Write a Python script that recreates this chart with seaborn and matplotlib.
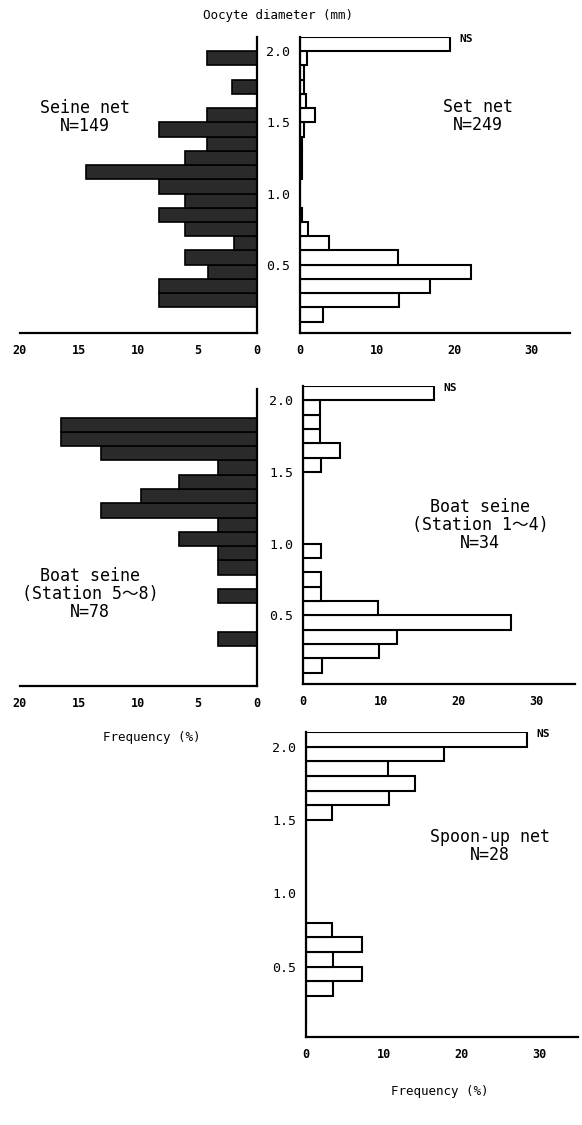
"""
Oocyte diameter frequency by gear type
"""

import matplotlib
matplotlib.use('Agg')
import matplotlib.pyplot as plt
import seaborn as sns
import numpy as np

# bin lower edges (mm); last bin (2.0) is the "NS" class
bins = [0.1, 0.2, 0.3, 0.4, 0.5, 0.6, 0.7, 0.8, 0.9, 1.0,
        1.1, 1.2, 1.3, 1.4, 1.5, 1.6, 1.7, 1.8, 1.9, 2.0]

seine_net = [0, 8.3, 8.3, 4.1, 6.1, 1.9, 6.1, 8.3, 6.1, 8.3,
             14.4, 6.1, 4.2, 8.3, 4.2, 0, 2.1, 0, 4.2, 0]
set_net = [3.0, 12.8, 16.9, 22.2, 12.7, 3.7, 1.1, 0.3, 0, 0,
           0.2, 0.2, 0.3, 0.5, 2.0, 0.8, 0.5, 0.5, 0.9, 19.5]
boat_5_8 = [0, 0, 3.3, 0, 0, 3.3, 0, 3.3, 3.3, 6.6,
            3.3, 13.2, 9.8, 6.6, 3.3, 13.2, 16.5, 16.5, 0, 0]
boat_1_4 = [2.5, 9.8, 12.1, 26.8, 9.7, 2.3, 2.3, 0, 2.3, 0,
            0, 0, 0, 0, 2.3, 4.7, 2.2, 2.2, 2.2, 16.9]
spoon_up = [0, 0, 3.5, 7.2, 3.5, 7.2, 3.4, 0, 0, 0,
            0, 0, 0, 0, 3.4, 10.7, 14.0, 10.5, 17.7, 28.5]

y_ticks = [0.5, 1.0, 1.5, 2.0]
left_ticks = [20, 15, 10, 5, 0]
right_ticks = [0, 10, 20, 30]

sns.set_theme(style='white')
plt.rcParams['font.family'] = ['DejaVu Sans Mono', 'Noto Sans CJK JP']
plt.rcParams['text.color'] = 'black'
plt.rcParams['xtick.color'] = 'black'
plt.rcParams['ytick.color'] = 'black'

W, H = 582, 1125
fig = plt.figure(figsize=(W / 100, H / 100), dpi=100)


def add_ax(x0, x1, y_top, y_bot):
    return fig.add_axes([x0 / W, 1 - y_bot / H, (x1 - x0) / W, (y_bot - y_top) / H])


def draw_panel(ax, values, side):
    centers = np.array(bins) + 0.05
    if side == 'left':
        sns.barplot(x=values, y=centers, orient='h', native_scale=True, width=1,
                    color='#2a2a2a', saturation=1, edgecolor='black', linewidth=1.2,
                    errorbar=None, ax=ax)
        ax.set_xlim(20, 0)
        ax.set_xticks(left_ticks)
        ax.spines['left'].set_visible(False)
        ax.spines['right'].set_visible(True)
        ax.set_yticks([])
    else:
        sns.barplot(x=values, y=centers, orient='h', native_scale=True, width=1,
                    color='white', saturation=1, edgecolor='black', linewidth=1.5,
                    errorbar=None, ax=ax)
        ax.set_xlim(0, 35)
        ax.set_xticks(right_ticks)
        ax.set_yticks(y_ticks)
        ax.set_yticklabels([f'{t:.1f}' for t in y_ticks])
        ax.spines['right'].set_visible(False)
        ax.tick_params(axis='y', length=0, pad=7, labelsize=9.5)
    ax.spines['top'].set_visible(False)
    for s in ax.spines.values():
        s.set_linewidth(1.6)
        s.set_color('black')
    ax.set_ylim(0.02, 2.1)
    ax.tick_params(axis='x', direction='in', length=4, width=1.5,
                   pad=8, labelsize=8.5)
    for lab in ax.get_xticklabels():
        lab.set_fontweight('bold')
    ax.set_xlabel('')
    ax.set_ylabel('')
    ax.patch.set_alpha(0)


def ns_label(ax, values):
    ax.text(values[-1] + 1.2, 2.05, 'NS', fontsize=8, fontweight='bold',
            va='bottom', ha='left')


# top row
ax1 = add_ax(20, 257, 37, 333)
draw_panel(ax1, seine_net, 'left')
ax2 = add_ax(300, 570, 37, 333)
draw_panel(ax2, set_net, 'right')
ns_label(ax2, set_net)

# middle row
ax3 = add_ax(20, 257, 389, 686)
draw_panel(ax3, boat_5_8, 'left')
ax4 = add_ax(303, 575, 386, 684)
draw_panel(ax4, boat_1_4, 'right')
ns_label(ax4, boat_1_4)

# bottom
ax5 = add_ax(306, 578, 732, 1037)
draw_panel(ax5, spoon_up, 'right')
ns_label(ax5, spoon_up)

# labels
fig.text(278 / W, 1 - 15 / H, 'Oocyte diameter (mm)', fontsize=9, ha='center', va='center')
fig.text(85 / W, 1 - 117 / H, 'Seine net\nN=149', fontsize=12, ha='center', va='center',
         linespacing=1.0)
fig.text(478 / W, 1 - 116 / H, 'Set net\nN=249', fontsize=12, ha='center', va='center',
         linespacing=1.0)
fig.text(90 / W, 1 - 594 / H, 'Boat seine\n(Station 5～8)\nN=78', fontsize=12,
         ha='center', va='center', linespacing=1.0)
fig.text(480 / W, 1 - 525 / H, 'Boat seine\n(Station 1～4)\nN=34', fontsize=12,
         ha='center', va='center', linespacing=1.0)
fig.text(490 / W, 1 - 846 / H, 'Spoon-up net\nN=28', fontsize=12, ha='center', va='center',
         linespacing=1.0)
fig.text(152 / W, 1 - 738 / H, 'Frequency (%)', fontsize=9, ha='center', va='center')
fig.text(440 / W, 1 - 1092 / H, 'Frequency (%)', fontsize=9, ha='center', va='center')

plt.savefig('out.png', dpi=100)
